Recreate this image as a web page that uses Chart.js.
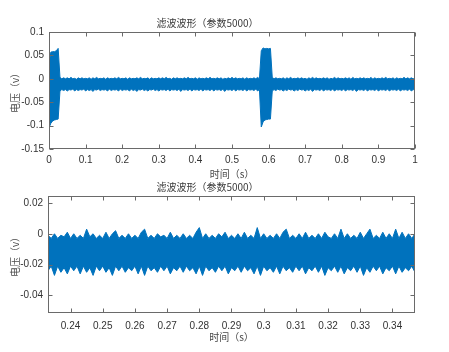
<!DOCTYPE html>
<html>
<head>
<meta charset="utf-8">
<style>
  body { margin: 0; background: #fff; }
  canvas { position: absolute; left: 0; }
</style>
</head>
<body>
<canvas id="top" width="449" height="180" style="top:0"></canvas>
<canvas id="bottom" width="449" height="172" style="top:180px"></canvas>
<script src="https://cdn.jsdelivr.net/npm/chart.js"></script>
<script>
// 上图：0~1 s，每 0.005 s 一个包络点（上沿 / 下沿）
const tStart1 = 0, tStep1 = 0.005;
const upper1 = [
  0.030, 0.057, 0.058, 0.058, 0.060, 0.065, 0.003, 0.000, 0.002, 0.000,
  0.002, 0.000, 0.003, 0.000, 0.001, -0.001, 0.002, 0.000, 0.002, 0.000,
  0.001, 0.000, 0.002, -0.001, 0.002, 0.000, 0.003, 0.000, 0.001, 0.000,
  0.002, -0.001, 0.002, 0.000, 0.001, 0.000, 0.002, 0.000, 0.003, 0.000,
  0.001, 0.000, 0.002, -0.001, 0.002, 0.000, 0.001, 0.000, 0.002, 0.000,
  0.003, 0.000, 0.001, 0.000, 0.002, -0.001, 0.002, 0.000, 0.001, 0.000,
  0.002, 0.000, 0.002, 0.000, 0.003, 0.000, 0.001, -0.001, 0.002, 0.000,
  0.002, 0.000, 0.001, 0.000, 0.002, 0.000, 0.003, 0.000, 0.001, 0.000,
  0.002, -0.001, 0.002, 0.000, 0.001, 0.000, 0.002, 0.000, 0.003, 0.000,
  0.001, 0.000, 0.002, 0.000, 0.002, -0.001, 0.001, 0.000, 0.002, 0.000,
  0.003, 0.000, 0.002, 0.000, 0.001, 0.000, 0.002, -0.001, 0.002, 0.000,
  0.001, 0.000, 0.002, 0.000, 0.003, 0.000, 0.060, 0.066, 0.064, 0.065,
  0.064, 0.065, 0.003, 0.000, 0.002, 0.000, 0.001, 0.000, 0.002, -0.001,
  0.002, 0.000, 0.003, 0.000, 0.001, 0.000, 0.002, 0.000, 0.002, 0.000,
  0.001, -0.001, 0.002, 0.000, 0.003, 0.000, 0.002, 0.000, 0.001, 0.000,
  0.002, 0.000, 0.002, -0.001, 0.001, 0.000, 0.003, 0.000, 0.002, 0.000,
  0.001, 0.000, 0.002, 0.000, 0.002, -0.001, 0.003, 0.000, 0.001, 0.000,
  0.002, 0.000, 0.002, 0.000, 0.001, 0.000, 0.003, -0.001, 0.002, 0.000,
  0.001, 0.000, 0.002, 0.000, 0.003, 0.000, 0.001, 0.000, 0.002, -0.001,
  0.002, 0.000, 0.001, 0.000, 0.003, 0.000, 0.002, 0.000, 0.002, 0.000,
  0.001
];
const lower1 = [
  -0.105, -0.095, -0.090, -0.088, -0.087, -0.086, -0.026, -0.023, -0.025, -0.023,
  -0.026, -0.023, -0.024, -0.022, -0.026, -0.023, -0.025, -0.023, -0.024, -0.022,
  -0.026, -0.023, -0.025, -0.023, -0.027, -0.023, -0.024, -0.022, -0.025, -0.023,
  -0.024, -0.023, -0.026, -0.022, -0.025, -0.023, -0.024, -0.023, -0.026, -0.022,
  -0.025, -0.023, -0.024, -0.023, -0.026, -0.022, -0.025, -0.023, -0.027, -0.023,
  -0.024, -0.022, -0.025, -0.023, -0.026, -0.023, -0.024, -0.022, -0.025, -0.023,
  -0.026, -0.023, -0.024, -0.023, -0.025, -0.022, -0.026, -0.023, -0.024, -0.023,
  -0.025, -0.022, -0.027, -0.023, -0.024, -0.023, -0.025, -0.022, -0.026, -0.023,
  -0.024, -0.023, -0.025, -0.022, -0.026, -0.023, -0.024, -0.023, -0.025, -0.022,
  -0.026, -0.023, -0.024, -0.023, -0.025, -0.022, -0.027, -0.023, -0.024, -0.023,
  -0.025, -0.022, -0.026, -0.023, -0.024, -0.023, -0.025, -0.022, -0.026, -0.023,
  -0.024, -0.023, -0.025, -0.022, -0.026, -0.023, -0.103, -0.092, -0.088, -0.087,
  -0.086, -0.086, -0.026, -0.023, -0.025, -0.022, -0.024, -0.023, -0.026, -0.023,
  -0.025, -0.022, -0.024, -0.023, -0.026, -0.023, -0.025, -0.022, -0.024, -0.023,
  -0.026, -0.023, -0.025, -0.022, -0.027, -0.023, -0.024, -0.023, -0.025, -0.022,
  -0.026, -0.023, -0.024, -0.023, -0.025, -0.022, -0.026, -0.023, -0.024, -0.023,
  -0.025, -0.022, -0.026, -0.023, -0.024, -0.023, -0.025, -0.022, -0.027, -0.023,
  -0.024, -0.023, -0.025, -0.022, -0.026, -0.023, -0.024, -0.023, -0.025, -0.022,
  -0.026, -0.023, -0.024, -0.023, -0.025, -0.022, -0.026, -0.023, -0.024, -0.023,
  -0.025, -0.022, -0.026, -0.023, -0.024, -0.023, -0.025, -0.022, -0.026, -0.023,
  -0.024
];
const xTicks1 = [0, 0.1, 0.2, 0.3, 0.4, 0.5, 0.6, 0.7, 0.8, 0.9, 1];
const yTicks1 = [-0.15, -0.1, -0.05, 0, 0.05, 0.1];

// 下图：局部放大 0.233~0.347 s，每 0.001 s 一个包络点
const tStart2 = 0.233, tStep2 = 0.001;
const upper2 = [
  -0.001, -0.003, 0.000, -0.003, -0.001, -0.002, 0.001, -0.003, 0.000, -0.003,
  -0.001, -0.003, 0.003, -0.002, 0.000, -0.003, -0.001, -0.003, 0.001, -0.003,
  0.000, 0.002, -0.003, -0.001, -0.003, 0.000, -0.003, -0.001, -0.003, 0.001,
  0.003, -0.003, -0.001, -0.003, 0.000, -0.002, -0.001, -0.003, 0.001, -0.003,
  -0.001, -0.003, 0.000, -0.003, -0.001, -0.003, 0.001, 0.004, -0.003, 0.000,
  -0.003, -0.001, -0.003, 0.000, -0.002, 0.001, -0.003, -0.001, -0.003, 0.000,
  -0.003, 0.001, -0.003, -0.001, -0.003, 0.004, -0.003, 0.000, -0.003, -0.001,
  -0.003, 0.000, -0.003, 0.001, 0.003, -0.003, -0.001, -0.003, 0.000, -0.003,
  0.001, -0.003, -0.001, -0.003, 0.000, -0.003, 0.001, -0.002, -0.003, 0.000,
  -0.003, 0.003, -0.003, 0.000, -0.003, -0.001, -0.003, 0.001, -0.003, 0.000,
  0.003, -0.003, -0.001, -0.003, 0.001, -0.003, 0.000, -0.003, 0.003, -0.003,
  0.001, -0.003, 0.000, -0.003, 0.000
];
const lower2 = [
  -0.024, -0.021, -0.027, -0.021, -0.025, -0.022, -0.026, -0.021, -0.024, -0.021,
  -0.026, -0.021, -0.025, -0.022, -0.027, -0.021, -0.024, -0.021, -0.025, -0.022,
  -0.027, -0.021, -0.024, -0.021, -0.025, -0.022, -0.024, -0.021, -0.026, -0.021,
  -0.027, -0.021, -0.024, -0.022, -0.025, -0.021, -0.024, -0.021, -0.026, -0.022,
  -0.024, -0.021, -0.025, -0.021, -0.024, -0.022, -0.026, -0.021, -0.027, -0.021,
  -0.024, -0.022, -0.025, -0.021, -0.024, -0.021, -0.026, -0.022, -0.024, -0.021,
  -0.025, -0.021, -0.024, -0.022, -0.026, -0.021, -0.027, -0.021, -0.024, -0.022,
  -0.025, -0.021, -0.026, -0.021, -0.024, -0.022, -0.025, -0.021, -0.024, -0.021,
  -0.026, -0.022, -0.024, -0.021, -0.025, -0.021, -0.027, -0.022, -0.024, -0.021,
  -0.025, -0.021, -0.026, -0.022, -0.024, -0.021, -0.025, -0.021, -0.027, -0.022,
  -0.025, -0.021, -0.024, -0.021, -0.026, -0.022, -0.024, -0.021, -0.026, -0.021,
  -0.025, -0.022, -0.024, -0.021, -0.025
];
const xTicks2 = [0.24, 0.25, 0.26, 0.27, 0.28, 0.29, 0.3, 0.31, 0.32, 0.33, 0.34];
const yTicks2 = [-0.04, -0.02, 0, 0.02];

const BLUE = '#0072BD';
const tickFont = { family: 'Liberation Sans, Arial, sans-serif', size: 10 };
const cjkFont = { family: 'Noto Sans CJK SC, sans-serif', size: 10, weight: 'normal' };

// MATLAB 风格：四周边框 + 朝内的刻度
const boxTicks = {
  id: 'boxTicks',
  afterDraw(chart) {
    const { ctx, chartArea: a, scales: { x, y } } = chart;
    const L = Math.round(a.left) + 0.5, R = Math.round(a.right) - 0.5;
    const T = Math.round(a.top) + 0.5, B = Math.round(a.bottom) - 0.5;
    ctx.save();
    ctx.strokeStyle = '#6a6a6a';
    ctx.lineWidth = 1;
    ctx.strokeRect(L, T, R - L, B - T);
    ctx.beginPath();
    x.ticks.forEach(t => {
      const px = Math.round(x.getPixelForValue(t.value)) + 0.5;
      ctx.moveTo(px, B); ctx.lineTo(px, B - 4);
      ctx.moveTo(px, T); ctx.lineTo(px, T + 4);
    });
    y.ticks.forEach(t => {
      const py = Math.round(y.getPixelForValue(t.value)) + 0.5;
      ctx.moveTo(L, py); ctx.lineTo(L + 4, py);
      ctx.moveTo(R, py); ctx.lineTo(R - 4, py);
    });
    ctx.stroke();
    ctx.restore();
  }
};

function makeChart(id, t0, dt, up, lo, xt, yt, xr, yr, box) {
  const pts = arr => arr.map((v, i) => ({ x: +(t0 + i * dt).toFixed(4), y: v }));
  return new Chart(document.getElementById(id), {
    type: 'line',
    data: {
      datasets: [
        { data: pts(up), borderColor: BLUE, backgroundColor: BLUE, borderWidth: 1, pointRadius: 0, fill: '+1' },
        { data: pts(lo), borderColor: BLUE, borderWidth: 1, pointRadius: 0, fill: false }
      ]
    },
    options: {
      responsive: false,
      animation: false,
      layout: { padding: { right: 34 } },
      plugins: {
        legend: { display: false },
        tooltip: { enabled: false },
        title: {
          display: true,
          text: '滤波波形（参数5000）',
          color: '#3a3a3a',
          font: cjkFont,
          padding: box.title
        }
      },
      scales: {
        x: {
          type: 'linear', min: xr[0], max: xr[1],
          grid: { display: false, drawTicks: false }, border: { display: false },
          afterBuildTicks: s => { s.ticks = xt.map(v => ({ value: v })); },
          afterFit: s => { s.height = box.xh; },
          ticks: { font: tickFont, color: '#333', padding: box.xp, maxRotation: 0, callback: v => String(v) },
          title: { display: true, text: '时间（s）', font: cjkFont, color: '#4a4a4a', padding: { top: 0, bottom: box.xtp } }
        },
        y: {
          min: yr[0], max: yr[1],
          grid: { display: false, drawTicks: false }, border: { display: false },
          afterBuildTicks: s => { s.ticks = yt.map(v => ({ value: v })); },
          afterFit: s => { s.width = box.yw; },
          ticks: { font: tickFont, color: '#333', padding: 5, callback: v => String(v) },
          title: { display: true, text: '电压（v）', font: cjkFont, color: '#4a4a4a', padding: { top: 9, bottom: 0 } }
        }
      }
    },
    plugins: [boxTicks]
  });
}

makeChart('top', tStart1, tStep1, upper1, lower1, xTicks1, yTicks1, [0, 1], [-0.15, 0.1],
  { title: { top: 17, bottom: 3 }, xh: 31, xp: 5, xtp: 0, yw: 49 });
makeChart('bottom', tStart2, tStep2, upper2, lower2, xTicks2, yTicks2, [0.233, 0.347], [-0.0514, 0.0245],
  { title: { top: 1, bottom: 3 }, xh: 39, xp: 7, xtp: 9, yw: 48 });
</script>
</body>
</html>
